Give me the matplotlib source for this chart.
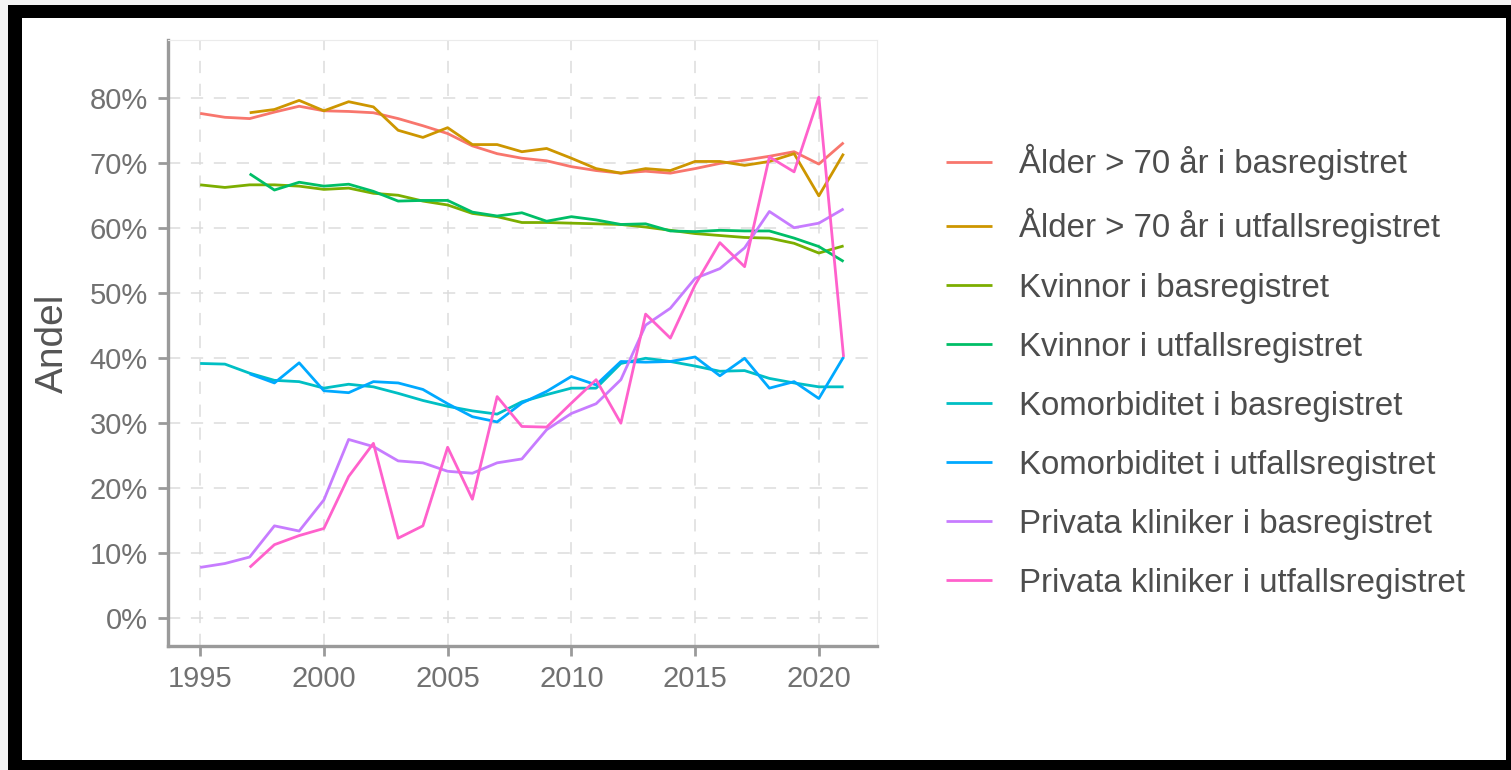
import matplotlib
matplotlib.use("Agg")
import matplotlib.pyplot as plt
from matplotlib.patches import Rectangle
from matplotlib.ticker import FuncFormatter

# -----------------------------
# Data, shares in percent
# -----------------------------
years_bas = list(range(1995, 2022))
years_utf = list(range(1997, 2022))

alder_bas = [77.7, 77.1, 76.9, 77.9, 78.8, 78.1, 78.0, 77.8, 76.9, 75.8,
             74.6, 72.7, 71.5, 70.8, 70.4, 69.5, 68.9, 68.5, 68.8, 68.5,
             69.2, 70.0, 70.5, 71.1, 71.8, 69.9, 73.2]
alder_utf = [77.8, 78.3, 79.7, 78.1, 79.5, 78.7, 75.1, 74.0, 75.5, 72.9,
             72.9, 71.8, 72.3, 70.8, 69.2, 68.5, 69.2, 68.9, 70.3, 70.3,
             69.7, 70.3, 71.5, 65.0, 71.5]
kvinnor_bas = [66.7, 66.3, 66.7, 66.7, 66.5, 66.0, 66.2, 65.4, 65.1, 64.2,
               63.6, 62.3, 61.8, 60.9, 60.9, 60.8, 60.7, 60.6, 60.2, 59.7,
               59.2, 58.9, 58.6, 58.5, 57.7, 56.2, 57.3]
kvinnor_utf = [68.4, 65.9, 67.1, 66.5, 66.8, 65.7, 64.2, 64.3, 64.3, 62.5,
               61.9, 62.4, 61.1, 61.8, 61.3, 60.6, 60.7, 59.6, 59.5, 59.7,
               59.6, 59.6, 58.5, 57.2, 54.9]
komorb_bas = [39.2, 39.1, 37.7, 36.6, 36.4, 35.4, 36.0, 35.6, 34.6, 33.5,
              32.6, 31.9, 31.4, 33.3, 34.4, 35.4, 35.4, 39.2, 40.0, 39.5,
              38.8, 38.0, 38.1, 36.9, 36.2, 35.6, 35.6]
komorb_utf = [37.6, 36.2, 39.3, 35.0, 34.7, 36.4, 36.2, 35.2, 33.0, 31.0,
              30.2, 33.1, 34.9, 37.2, 35.9, 39.5, 39.4, 39.5, 40.2, 37.3,
              40.0, 35.4, 36.4, 33.8, 40.2]
privata_bas = [7.8, 8.4, 9.4, 14.2, 13.4, 18.2, 27.5, 26.4, 24.2, 23.9,
               22.6, 22.3, 23.9, 24.5, 29.0, 31.5, 33.0, 36.7, 45.1, 47.7,
               52.3, 53.8, 57.0, 62.6, 60.1, 60.8, 63.0]
privata_utf = [7.8, 11.3, 12.7, 13.8, 21.8, 26.9, 12.3, 14.2, 26.3, 18.3,
               34.1, 29.5, 29.4, 33.1, 36.7, 30.0, 46.8, 43.1, 51.3, 57.8,
               54.1, 71.0, 68.7, 80.2, 40.2]

labels = [
    "Ålder > 70 år i basregistret",
    "Ålder > 70 år i utfallsregistret",
    "Kvinnor i basregistret",
    "Kvinnor i utfallsregistret",
    "Komorbiditet i basregistret",
    "Komorbiditet i utfallsregistret",
    "Privata kliniker i basregistret",
    "Privata kliniker i utfallsregistret",
]
colors = ["#F8766D", "#CD9600", "#7CAE00", "#00BE67",
          "#00BFC4", "#00A9FF", "#C77CFF", "#FF61CC"]

series = [
    (years_bas, alder_bas), (years_utf, alder_utf),
    (years_bas, kvinnor_bas), (years_utf, kvinnor_utf),
    (years_bas, komorb_bas), (years_utf, komorb_utf),
    (years_bas, privata_bas), (years_utf, privata_utf),
]

plt.rcParams["font.family"] = ["Liberation Sans", "DejaVu Sans"]

# -----------------------------
# Figure with black frame
# -----------------------------
W, H = 1511, 770
fig = plt.figure(figsize=(W / 100, H / 100), dpi=100, facecolor="black")
fig.patches.append(Rectangle((0, 1 - 5 / H), 1, 5 / H, transform=fig.transFigure,
                             facecolor="#f4f4f4", edgecolor="none", zorder=-5))
fig.patches.append(Rectangle((0, 0), 8 / W, 1, transform=fig.transFigure,
                             facecolor="#f4f4f4", edgecolor="none", zorder=-5))
fig.patches.append(Rectangle((22 / W, 1 - 760 / H), (1506 - 22) / W, (760 - 18) / H,
                             transform=fig.transFigure, facecolor="white",
                             edgecolor="none", zorder=-4))

ax = fig.add_axes([168 / W, 1 - 646 / H, (877 - 168) / W, (646 - 40) / H])
ax.set_facecolor("none")

handles = []
for (xs, ys), col, lab in zip(series, colors, labels):
    ln, = ax.plot(xs, ys, color=col, lw=2.0, label=lab, solid_capstyle="butt")
    handles.append(ln)

ax.set_xlim(1993.7, 2022.35)
ax.set_ylim(-4.3, 89)
ax.set_xticks([1995, 2000, 2005, 2010, 2015, 2020])
ax.set_yticks(range(0, 81, 10))
ax.yaxis.set_major_formatter(FuncFormatter(lambda v, p: f"{v:.0f}%"))

ax.grid(True, color="#dcdcdc", lw=1.1, linestyle=(0, (8, 7)))
ax.set_axisbelow(True)

for side in ["top", "right"]:
    ax.spines[side].set_color("#ebebeb")
    ax.spines[side].set_linewidth(0.8)
for side in ["left", "bottom"]:
    ax.spines[side].set_color("#9a9a9a")
    ax.spines[side].set_linewidth(2.4)

ax.tick_params(axis="both", colors="#9a9a9a", width=2.0, length=7.5,
               labelsize=21, labelcolor="#717171")
ax.tick_params(axis="y", pad=7)
ax.tick_params(axis="x", pad=6)

ax.set_ylabel("Andel", fontsize=28, color="#555555", va="center")
ax.yaxis.set_label_coords(-0.162, 0.5)

fig.legend(handles, labels, loc="upper left",
           bbox_to_anchor=(946 / W, 1 - 144 / H), bbox_transform=fig.transFigure,
           frameon=False, fontsize=23.8, labelcolor="#4d4d4d",
           handlelength=1.4, handletextpad=0.82, labelspacing=0.85,
           borderpad=0, borderaxespad=0)

fig.savefig("out.png", dpi=100, facecolor=fig.get_facecolor())
